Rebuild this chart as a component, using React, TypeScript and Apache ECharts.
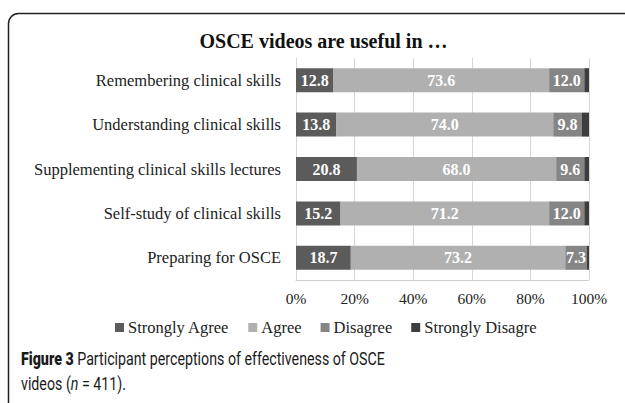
import React, { useEffect, useRef } from "react";
import * as echarts from "echarts";

const categories = [
  "Remembering clinical skills",
  "Understanding clinical skills",
  "Supplementing clinical skills lectures",
  "Self-study of clinical skills",
  "Preparing for OSCE",
];
const seriesNames = ["Strongly Agree", "Agree", "Disagree", "Strongly Disagre"];
const stronglyAgree = [12.8, 13.8, 20.8, 15.2, 18.7];
const agree = [73.6, 74.0, 68.0, 71.2, 73.2];
const disagree = [12.0, 9.8, 9.6, 12.0, 7.3];
const stronglyDisagree = [1.6, 2.4, 1.6, 1.6, 0.8];
const xTicks = { min: 0, max: 100, interval: 20 };
const colors = ["#5b5b5b", "#b0b0b0", "#858585", "#3d3d3d"];

const SERIF = "'Liberation Serif', 'Times New Roman', serif";
const SANS = "'Roboto', 'Noto Sans', sans-serif";

export default function App() {
  const ref = useRef<HTMLDivElement>(null);
  useEffect(() => {
    if (!ref.current) return;
    const chart = echarts.init(ref.current, undefined, { renderer: "svg" });
    const values = [stronglyAgree, agree, disagree, stronglyDisagree];
    chart.setOption({
      animation: false,
      backgroundColor: "#ffffff",
      grid: { left: 296, right: 36, top: 58, bottom: 123, outerBoundsMode: "none", containLabel: false },
      xAxis: {
        type: "value",
        min: xTicks.min,
        max: xTicks.max,
        interval: xTicks.interval,
        axisLabel: { formatter: "{value}%", fontFamily: SERIF, fontSize: 15.5, color: "#222", margin: 10 },
        axisLine: { show: true, lineStyle: { color: "#d0d0d0" } },
        axisTick: { show: false },
        splitLine: { show: true, lineStyle: { color: "#d6d6d6", width: 1 } },
      },
      yAxis: {
        type: "category",
        data: categories,
        inverse: true,
        axisLine: { show: false },
        axisTick: { show: false },
        axisLabel: { fontFamily: SERIF, fontSize: 16.5, color: "#222", margin: 15 },
      },
      legend: {
        data: seriesNames,
        top: 314,
        left: 110,
        icon: "rect",
        itemWidth: 9,
        itemHeight: 9,
        itemGap: 19,
        textStyle: { fontFamily: SERIF, fontSize: 16.5, color: "#222", padding: [0, 0, 0, -1] },
      },
      series: seriesNames.map((name, i) => ({
        name,
        type: "bar",
        stack: "total",
        barWidth: 24,
        data: values[i],
        itemStyle: { color: colors[i] },
        label: {
          show: i < 3,
          position: "inside",
          color: "#fff",
          fontFamily: SERIF,
          fontWeight: "bold",
          fontSize: 16,
          formatter: (p: any) => Number(p.value).toFixed(1),
        },
      })),
      graphic: [
        {
          type: "rect",
          shape: { x: 8.5, y: 13.5, width: 700, height: 500, r: [10, 0, 0, 0] },
          style: { fill: "none", stroke: "#222", lineWidth: 1.5 },
          silent: true,
        },
        {
          type: "text",
          x: 323.5,
          y: 41,
          style: {
            text: "OSCE videos are useful in …",
            fontFamily: SERIF,
            fontWeight: "bold",
            fontSize: 20,
            fill: "#111",
            align: "center",
            verticalAlign: "middle",
          },
        },
        {
          type: "text",
          x: 21,
          y: 346,
          scaleX: 0.813,
          style: {
            text: "{b|Figure 3} Participant perceptions of effectiveness of OSCE\nvideos ({i|n} = 411).",
            fontFamily: SANS,
            fontSize: 17.5,
            lineHeight: 25,
            fill: "#1a1a1a",
            rich: {
              b: { fontFamily: SANS, fontSize: 17.5, fontWeight: 900, fill: "#1a1a1a" },
              i: { fontFamily: SANS, fontSize: 17.5, fontStyle: "italic", fill: "#1a1a1a" },
            },
          },
        },
      ],
    });
    return () => chart.dispose();
  }, []);
  return (
    <div
      ref={ref}
      style={{ position: "absolute", left: 0, top: 0, width: 625, height: 403 }}
    />
  );
}
